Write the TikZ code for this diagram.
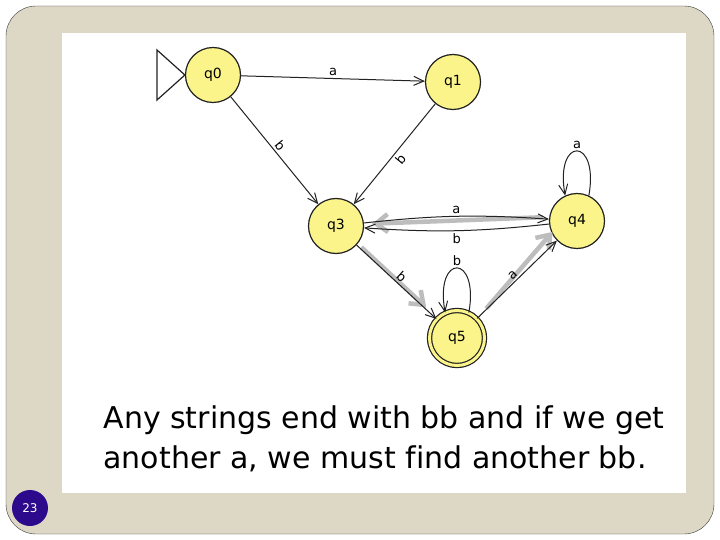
\documentclass[tikz,border=0pt]{standalone}
\usepackage{fontspec}
\setmainfont{DejaVu Sans}[Ligatures=NoCommon]
\usepackage{xcolor}
\usepackage{tikz}
\usetikzlibrary{arrows.meta,positioning,calc}
\definecolor{slidecolor}{HTML}{DDD8C5}
\definecolor{framecolor}{HTML}{3A3A3A}
\definecolor{statecolor}{HTML}{FAF48A}
\definecolor{numbercolor}{HTML}{2D0A8C}
\definecolor{hintcolor}{HTML}{BDBDBD}
\definecolor{ink}{HTML}{222222}
\tikzset{
  statenode/.style={
    circle,
    draw=ink,
    line width=1.2pt,
    fill=statecolor,
    minimum size=55pt,
    inner sep=0pt,
    font=\fontsize{14}{16}\selectfont
  },
  finalnode/.style={
    statenode,
    double=statecolor,
    double distance=3pt
  },
  edgelabel/.style={font=\fontsize{13}{15}\selectfont, inner sep=2pt},
  transarrow/.style={-{Straight Barb[length=10pt,width=9pt]},line width=1pt,draw=ink},
  hintarrow/.style={-{Straight Barb[length=12pt,width=18pt,line width=4.5pt]},line width=4.5pt,draw=hintcolor}
}

\begin{document}
\begin{tikzpicture}[x=1pt,y=-1pt]
  \useasboundingbox (0,0) rectangle (720,540);
  \filldraw[fill=slidecolor,draw=framecolor,rounded corners=30pt] (6,6) rectangle (714,534);
  \fill[white] (62,33) rectangle (686,493);
  \node[circle,fill=numbercolor,minimum size=36pt,inner sep=0pt,text=white,font=\fontsize{12}{14}\selectfont] (slideno) at (30,508) {23};
  % states
  \node[statenode] (q0) at (213,75) {q0};
  \node[statenode] (q1) at (453,82) {q1};
  \node[statenode] (q3) at (336,226) {q3};
  \node[statenode] (q4) at (577,221) {q4};
  \node[finalnode] (q5) at (457,338) {q5};
  \draw[line width=1.2pt,draw=ink] (157,50) -- (157,100) -- (q0.west) -- cycle;
  % hint arrows
  \draw[hintarrow,shorten <=6pt,shorten >=8pt] ([yshift=4pt]q4.west) -- ([yshift=2pt]q3.east);
  \draw[hintarrow,shorten <=2pt,shorten >=4pt] ([xshift=4pt]q3.south east) -- ([xshift=-8pt,yshift=8pt]q5.north west);
  \draw[hintarrow,shorten <=2pt,shorten >=4pt] ([xshift=8pt,yshift=8pt]q5.north east) -- ([xshift=-2pt,yshift=12pt]q4.south west);
  % transitions
  \draw[transarrow] (q0) -- node[edgelabel,above] {a} (q1);
  \draw[transarrow] (q0) -- node[edgelabel,above,sloped] {b} (q3);
  \draw[transarrow] (q1) -- node[edgelabel,below,sloped] {b} (q3);
  \draw[transarrow] (q3) to[bend left=5] node[edgelabel,above] {a} (q4);
  \draw[transarrow] (q4) to[bend left=5] node[edgelabel,below] {b} (q3);
  \draw[transarrow] (q4.65) to[out=80,in=100,looseness=6.5] node[edgelabel,above] {a} (q4.115);
  \draw[transarrow] (q3) -- node[edgelabel,above,sloped] {b} (q5);
  \draw[transarrow] (q5.65) to[out=80,in=100,looseness=6.5] node[edgelabel,above] {b} (q5.115);
  \draw[transarrow] (q5) -- node[edgelabel,above,sloped] {a} (q4);
  \node[anchor=base west,align=left,font=\fontsize{30}{40}\selectfont] (caption) at (100,468) {Any strings end with bb and if we get\\another a, we must find another bb.};
\end{tikzpicture}
\end{document}
